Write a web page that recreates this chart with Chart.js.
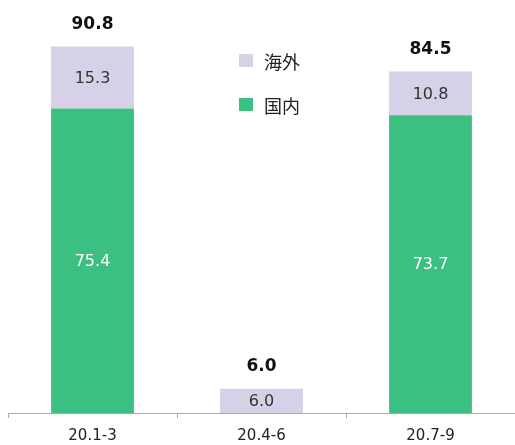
<!DOCTYPE html>
<html>
<head>
<meta charset="utf-8">
<script src="https://cdn.jsdelivr.net/npm/chart.js@4.4.1/dist/chart.umd.min.js"></script>
<style>
  body { margin: 0; background: #fff; }
  #wrap { width: 515px; height: 445px; }
</style>
</head>
<body>
<div id="wrap"><canvas id="grafico"></canvas></div>
<script>
// 四半期ごとの値
var periodos = ['20.1-3', '20.4-6', '20.7-9'];
var kokunai = [75.4, 0, 73.7];
var kaigai = [15.3, 6.0, 10.8];
var totais = [90.8, 6.0, 84.5];

var corVerde = 'rgb(60, 192, 130)';
var corLilas = 'rgb(214, 209, 230)';

// rótulos dentro das barras e totais acima
var rotulos = {
    id: 'rotulos',
    afterDatasetsDraw: function(chart) {
        var ctx = chart.ctx;
        ctx.save();
        ctx.textAlign = 'center';
        ctx.textBaseline = 'middle';
        chart.data.datasets.forEach(function(ds, i) {
            var meta = chart.getDatasetMeta(i);
            meta.data.forEach(function(bar, j) {
                var v = ds.data[j];
                if (!v) return;
                ctx.font = '16px "DejaVu Sans", Verdana, sans-serif';
                ctx.fillStyle = ds.corTexto;
                ctx.fillText(v.toFixed(1), bar.x, (bar.y + bar.base) / 2 + 1);
            });
        });
        var topo = chart.getDatasetMeta(chart.data.datasets.length - 1);
        ctx.font = 'bold 17px "DejaVu Sans", Verdana, sans-serif';
        ctx.fillStyle = '#111';
        topo.data.forEach(function(bar, j) {
            ctx.fillText(totais[j].toFixed(1), bar.x, bar.y - 22);
        });
        ctx.restore();
    }
};

// legenda vertical dentro da área do gráfico
var legenda = {
    id: 'legenda',
    afterDraw: function(chart) {
        var ctx = chart.ctx;
        var itens = chart.data.datasets.slice().reverse();
        ctx.save();
        ctx.textBaseline = 'middle';
        ctx.font = '18px "Noto Sans CJK JP", sans-serif';
        itens.forEach(function(ds, i) {
            var y = 61 + i * 44;
            ctx.fillStyle = ds.backgroundColor;
            ctx.fillRect(239, y - 7, 14, 13);
            ctx.fillStyle = '#222';
            ctx.fillText(ds.label, 264, y + 1);
        });
        ctx.restore();
    }
};

var ctx = document.getElementById('grafico');
var chartGraph = new Chart(ctx, {
    type: 'bar',
    data: {
        labels: periodos,
        datasets: [{
            label: '国内',
            data: kokunai,
            backgroundColor: corVerde,
            corTexto: '#ffffff',
            barPercentage: 0.49,
            categoryPercentage: 1
        }, {
            label: '海外',
            data: kaigai,
            backgroundColor: corLilas,
            corTexto: '#333333',
            barPercentage: 0.49,
            categoryPercentage: 1
        }]
    },
    options: {
        responsive: true,
        maintainAspectRatio: false,
        animation: false,
        layout: { padding: { left: 8, right: 0, top: 9, bottom: -9 } },
        plugins: {
            legend: { display: false },
            tooltip: { enabled: false }
        },
        scales: {
            x: {
                stacked: true,
                grid: { drawOnChartArea: false, drawTicks: true, tickLength: 5, color: '#aaa' },
                border: { display: true, color: '#aaa' },
                ticks: {
                    color: '#222',
                    padding: 9,
                    font: { family: '"DejaVu Sans", Verdana, sans-serif', size: 15 }
                }
            },
            y: {
                stacked: true,
                display: false,
                min: 0,
                max: 100
            }
        }
    },
    plugins: [rotulos, legenda]
});
</script>
</body>
</html>
